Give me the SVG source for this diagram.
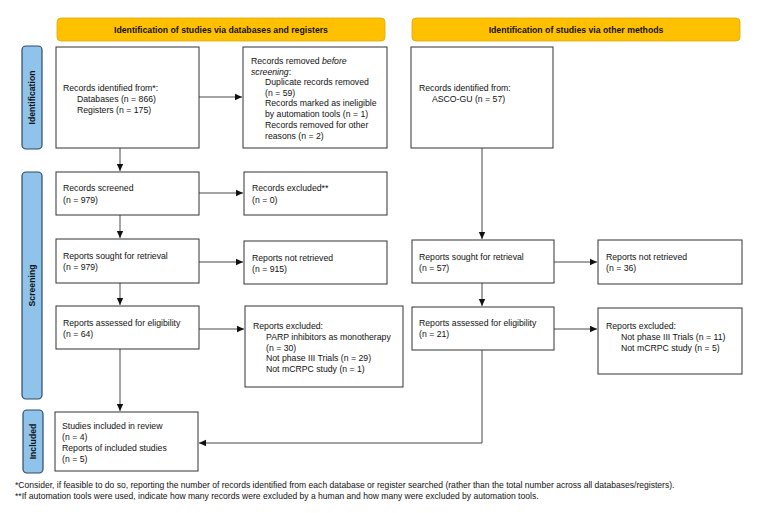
<svg xmlns="http://www.w3.org/2000/svg" width="771" height="513" viewBox="0 0 771 513">
<style>
text{font-family:"Liberation Sans",Arial,sans-serif;font-size:8.7px;fill:#111}
.b{font-weight:bold}
.box{fill:#fff;stroke:#333;stroke-width:1}
.hdr{fill:#FFC000;stroke:#E0A800;stroke-width:0.8}
.side{fill:#8FC3EA;stroke:#2E4A6B;stroke-width:1.2}
.ln{fill:none;stroke:#333;stroke-width:0.9}
.fn{font-size:8.55px}
</style>
<defs>
<marker id="ah" markerWidth="8" markerHeight="8" refX="7" refY="4" orient="auto" markerUnits="userSpaceOnUse">
<path d="M0,0.8 L7,4 L0,7.2 Z" fill="#111"/>
</marker>
</defs>
<rect width="771" height="513" fill="#fff"/>

<g id="hdr-left"><rect class="hdr" x="57" y="18" width="328" height="23" rx="4"/><text class="b" x="221" y="33" text-anchor="middle">Identification of studies via databases and registers</text></g>
<g id="hdr-right"><rect class="hdr" x="412" y="18" width="328" height="23" rx="4"/><text class="b" x="576" y="33" text-anchor="middle">Identification of studies via other methods</text></g>

<g id="bar-identification"><rect class="side" x="22" y="46" width="20" height="103" rx="4"/><text class="b" transform="translate(35,97.5) rotate(-90)" text-anchor="middle">Identification</text></g>
<g id="bar-screening"><rect class="side" x="22" y="172" width="20" height="227" rx="4"/><text class="b" transform="translate(35,285.5) rotate(-90)" text-anchor="middle">Screening</text></g>
<g id="bar-included"><rect class="side" x="23" y="410" width="20" height="63" rx="4"/><text class="b" transform="translate(36,441.5) rotate(-90)" text-anchor="middle">Included</text></g>

<g id="n-identified"><rect class="box" x="56" y="47" width="143" height="101"/>
<text x="63" y="91">Records identified from*:</text>
<text x="77" y="102">Databases (n = 866)</text>
<text x="77" y="112.5">Registers (n = 175)</text></g>

<g id="n-removed"><rect class="box" x="243" y="47" width="144" height="101"/>
<text x="251" y="64">Records removed <tspan font-style="italic">before</tspan></text>
<text x="251" y="74.5" font-style="italic">screening<tspan font-style="normal">:</tspan></text>
<text x="265" y="85">Duplicate records removed</text>
<text x="265" y="95.5">(n = 59)</text>
<text x="265" y="106">Records marked as ineligible</text>
<text x="265" y="117">by automation tools (n = 1)</text>
<text x="265" y="127.5">Records removed for other</text>
<text x="265" y="138.5">reasons (n = 2)</text></g>

<g id="n-other-identified"><rect class="box" x="411" y="47" width="142" height="101"/>
<text x="419" y="91">Records identified from:</text>
<text x="432" y="102">ASCO-GU (n = 57)</text></g>

<g id="n-screened"><rect class="box" x="56" y="172" width="143" height="43"/>
<text x="63" y="191">Records screened</text>
<text x="63" y="202.5">(n = 979)</text></g>

<g id="n-excluded"><rect class="box" x="244" y="172" width="143" height="43"/>
<text x="252" y="191">Records excluded**</text>
<text x="252" y="202.5">(n = 0)</text></g>

<g id="n-sought"><rect class="box" x="56" y="239" width="143" height="44"/>
<text x="63" y="259">Reports sought for retrieval</text>
<text x="63" y="270">(n = 979)</text></g>

<g id="n-notretrieved"><rect class="box" x="244" y="241" width="143" height="43"/>
<text x="252" y="261">Reports not retrieved</text>
<text x="252" y="272">(n = 915)</text></g>

<g id="n-assessed"><rect class="box" x="56" y="306" width="143" height="43"/>
<text x="63" y="326">Reports assessed for eligibility</text>
<text x="63" y="337">(n = 64)</text></g>

<g id="n-reports-excluded"><rect class="box" x="245" y="306" width="158" height="81"/>
<text x="253" y="329">Reports excluded:</text>
<text x="266" y="340">PARP inhibitors as monotherapy</text>
<text x="266" y="350.5">(n = 30)</text>
<text x="266" y="361">Not phase III Trials (n = 29)</text>
<text x="266" y="372">Not mCRPC study (n = 1)</text></g>

<g id="n-other-sought"><rect class="box" x="412" y="240" width="142" height="43"/>
<text x="419" y="260">Reports sought for retrieval</text>
<text x="419" y="270.5">(n = 57)</text></g>

<g id="n-other-notretrieved"><rect class="box" x="598" y="240" width="144" height="44"/>
<text x="606" y="260">Reports not retrieved</text>
<text x="606" y="271">(n = 36)</text></g>

<g id="n-other-assessed"><rect class="box" x="412" y="307" width="142" height="43"/>
<text x="419" y="326">Reports assessed for eligibility</text>
<text x="419" y="337">(n = 21)</text></g>

<g id="n-other-excluded"><rect class="box" x="598" y="308" width="144" height="66"/>
<text x="606" y="329">Reports excluded:</text>
<text x="621" y="340">Not phase III Trials (n = 11)</text>
<text x="621" y="350.5">Not mCRPC study (n = 5)</text></g>

<g id="n-included"><rect class="box" x="55" y="412" width="143" height="59"/>
<text x="62" y="429">Studies included in review</text>
<text x="62" y="440">(n = 4)</text>
<text x="62" y="451">Reports of included studies</text>
<text x="62" y="462">(n = 5)</text></g>

<g id="connectors">
<path class="ln" d="M199,97 H242" marker-end="url(#ah)"/>
<path class="ln" d="M120,148 V171" marker-end="url(#ah)"/>
<path class="ln" d="M199,193 H243" marker-end="url(#ah)"/>
<path class="ln" d="M120,215 V238" marker-end="url(#ah)"/>
<path class="ln" d="M199,262 H243" marker-end="url(#ah)"/>
<path class="ln" d="M120,283 V305" marker-end="url(#ah)"/>
<path class="ln" d="M199,329 H244" marker-end="url(#ah)"/>
<path class="ln" d="M120,349 V411" marker-end="url(#ah)"/>
<path class="ln" d="M482,148 V239" marker-end="url(#ah)"/>
<path class="ln" d="M554,262 H597" marker-end="url(#ah)"/>
<path class="ln" d="M482,283 V306" marker-end="url(#ah)"/>
<path class="ln" d="M554,329 H597" marker-end="url(#ah)"/>
<path class="ln" d="M482,350 V443 H199" marker-end="url(#ah)"/>
</g>

<g id="footnotes">
<text class="fn" x="15" y="488">*Consider, if feasible to do so, reporting the number of records identified from each database or register searched (rather than the total number across all databases/registers).</text>
<text class="fn" x="15" y="498.5">**If automation tools were used, indicate how many records were excluded by a human and how many were excluded by automation tools.</text>
</g>
</svg>
